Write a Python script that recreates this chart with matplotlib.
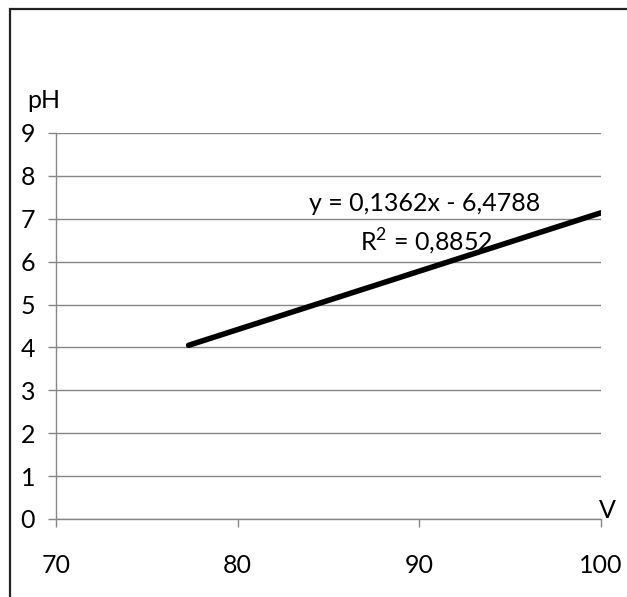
import matplotlib.pyplot as plt
from matplotlib.patches import Rectangle

plt.switch_backend("Agg")
plt.rcParams["font.family"] = ["Lato", "DejaVu Sans"]
plt.rcParams["mathtext.fontset"] = "custom"
plt.rcParams["mathtext.rm"] = "Lato"

# trend line end points
volume = [77.3, 100.0]
ph = [4.05, 7.14]

x_ticks = [70, 80, 90, 100]
y_ticks = list(range(0, 10))
equation = "y = 0,1362x - 6,4788"
r_squared = r"R$^\mathrm{2}$ = 0,8852"

GRID = "#878787"
FS = 18

fig = plt.figure(figsize=(6.27, 5.97), dpi=100)
ax = fig.add_axes([56 / 627, 1 - 519 / 597, (601 - 56) / 627, (519 - 133) / 597])

ax.plot(volume, ph, color="black", linewidth=4.0, solid_capstyle="round")

ax.set_xlim(70, 100)
ax.set_ylim(0, 9)
ax.set_xticks(x_ticks)
ax.set_yticks(y_ticks)
ax.grid(axis="y", color=GRID, linewidth=1.0)
ax.set_axisbelow(True)
for side in ("top", "right"):
    ax.spines[side].set_visible(False)
for side in ("left", "bottom"):
    ax.spines[side].set_color(GRID)
    ax.spines[side].set_linewidth(1.0)
ax.tick_params(axis="both", colors=GRID, labelcolor="black", labelsize=FS,
               length=6, width=1.0, direction="out")
ax.tick_params(axis="y", pad=9)
ax.tick_params(axis="x", pad=19)

ax.text(90.3, 7.36, equation, ha="center", va="center", fontsize=FS)
ax.text(90.4, 6.45, r_squared, ha="center", va="center", fontsize=FS)

fig.text(27 / 627, 1 - 100 / 597, "pH", ha="left", va="center", fontsize=FS)
fig.text(599 / 627, 1 - 511 / 597, "V", ha="left", va="center", fontsize=FS)

# outer chart frame, cut off at the right and bottom
fig.patches.append(Rectangle((10 / 627, -0.1), 1.2, 1 - 9 / 597 + 0.1,
                             transform=fig.transFigure, fill=False,
                             edgecolor="#222222", linewidth=1.6))

fig.savefig("out.png", dpi=100)
